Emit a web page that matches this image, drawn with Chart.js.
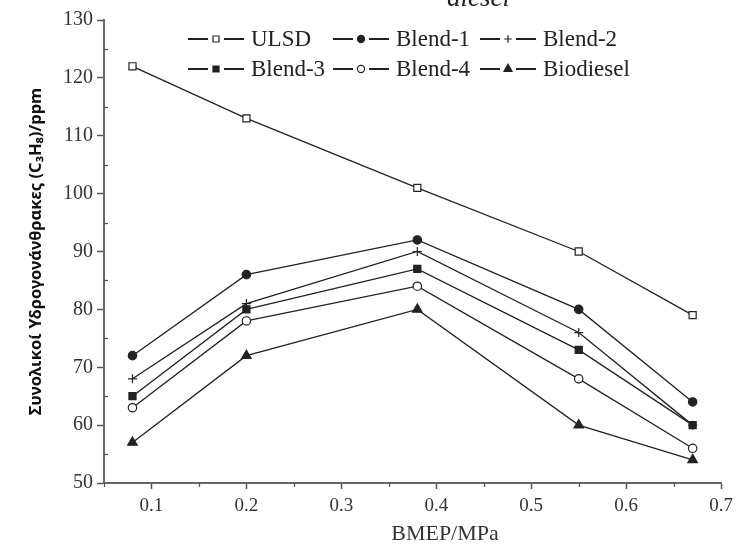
<!DOCTYPE html>
<html>
<head>
<meta charset="utf-8">
<script src="https://cdn.jsdelivr.net/npm/chart.js@4.4.1/dist/chart.umd.min.js"></script>
<style>
html, body { margin: 0; padding: 0; background: #fff; }
</style>
</head>
<body>
<canvas id="hcChart" width="739" height="544"></canvas>
<script>
// values (BMEP in MPa, HC in ppm)
const bmep = [0.08, 0.2, 0.38, 0.55, 0.67];
const ulsd = [122, 113, 101, 90, 79];
const blend1 = [72, 86, 92, 80, 64];
const blend2 = [68, 81, 90, 76, 60];
const blend3 = [65, 80, 87, 73, 60];
const blend4 = [63, 78, 84, 68, 56];
const biodiesel = [57, 72, 80, 60, 54];
const seriesNames = ['ULSD', 'Blend-1', 'Blend-2', 'Blend-3', 'Blend-4', 'Biodiesel'];
const xRange = [0.05, 0.7];
const yRange = [50, 130];

const serif = '"Liberation Serif", "DejaVu Serif", serif';
const ink = '#222';

const styles = [
	{ pointStyle: 'rect', radius: 5, bg: '#fff' },
	{ pointStyle: 'circle', radius: 4.2, bg: ink },
	{ pointStyle: 'cross', radius: 4.5, bg: ink },
	{ pointStyle: 'rect', radius: 5, bg: ink },
	{ pointStyle: 'circle', radius: 4.2, bg: '#fff' },
	{ pointStyle: 'triangle', radius: 5.5, bg: ink }
];
const values = [ulsd, blend1, blend2, blend3, blend4, biodiesel];

const datasets = values.map((vals, i) => ({
	label: seriesNames[i],
	data: bmep.map((x, j) => ({ x, y: vals[j] })),
	borderColor: ink,
	borderWidth: 1.3,
	pointStyle: styles[i].pointStyle,
	pointRadius: styles[i].radius,
	pointBackgroundColor: styles[i].bg,
	pointBorderColor: ink,
	pointBorderWidth: 1.2,
	tension: 0
}));

const isMajor = (v, step) => Math.abs(v / step - Math.round(v / step)) < 1e-6;

// legend: three columns, two rows
const legendCols = [188, 333, 480];
const legendRows = [39, 69];

const extras = {
	id: 'extras',
	afterDraw(chart) {
		const c = chart.ctx;
		const xs = chart.scales.x, ys = chart.scales.y;
		c.save();
		// minor ticks
		c.strokeStyle = '#555';
		c.lineWidth = 1.3;
		for (let v = xRange[0]; v <= xRange[1] + 1e-9; v += 0.05) {
			if (isMajor(v, 0.1)) continue;
			const px = Math.round(xs.getPixelForValue(v)) + 0.5;
			c.beginPath(); c.moveTo(px, xs.top); c.lineTo(px, xs.top + 4); c.stroke();
		}
		for (let v = yRange[0]; v <= yRange[1]; v += 5) {
			if (v % 10 === 0) continue;
			const py = Math.round(ys.getPixelForValue(v)) + 0.5;
			c.beginPath(); c.moveTo(ys.right, py); c.lineTo(ys.right + 4, py); c.stroke();
		}
		// legend
		c.font = '23px ' + serif;
		c.textBaseline = 'middle';
		datasets.forEach((ds, i) => {
			const x = legendCols[i % 3], y = legendRows[Math.floor(i / 3)];
			const w = 56, mid = x + w / 2;
			c.strokeStyle = ink;
			c.lineWidth = 1.8;
			c.beginPath();
			c.moveTo(x, y); c.lineTo(mid - 8, y);
			c.moveTo(mid + 8, y); c.lineTo(x + w, y);
			c.stroke();
			c.fillStyle = ds.pointBackgroundColor;
			c.lineWidth = 1.2;
			Chart.helpers.drawPoint(c, { pointStyle: ds.pointStyle, radius: ds.pointRadius * 0.85, borderWidth: 1.2, rotation: 0 }, mid, y);
			c.fillStyle = ink;
			c.fillText(ds.label, x + w + 7, y + 1);
		});
		// x axis title
		c.font = '22px ' + serif;
		c.textAlign = 'center';
		c.textBaseline = 'alphabetic';
		c.fillStyle = '#333';
		c.fillText('BMEP/MPa', 445, 540);
		// clipped caption fragment at the top edge
		c.font = 'italic 27px ' + serif;
		c.textAlign = 'left';
		c.fillStyle = ink;
		c.fillText('diesel', 447, 6);
		c.restore();
	}
};

new Chart(document.getElementById('hcChart'), {
	type: 'line',
	data: { datasets },
	plugins: [extras],
	options: {
		responsive: false,
		devicePixelRatio: 1,
		animation: false,
		layout: { padding: { top: 20, right: 13, left: 0, bottom: 0 } },
		plugins: { legend: { display: false }, tooltip: { enabled: false } },
		scales: {
			x: {
				type: 'linear',
				min: xRange[0], max: xRange[1],
				afterFit: s => { s.height = 61; },
				ticks: {
					stepSize: 0.05,
					autoSkip: false,
					maxRotation: 0,
					padding: 6,
					color: '#333',
					font: { family: serif, size: 19 },
					callback: v => isMajor(v, 0.1) ? v.toFixed(1) : ''
				},
				grid: {
					drawOnChartArea: false,
					tickLength: 6,
					tickWidth: 1.5,
					tickColor: ctx => (ctx.tick && isMajor(ctx.tick.value, 0.1)) ? '#555' : 'rgba(0,0,0,0)'
				},
				border: { display: true, color: '#666', width: 2 },
				title: { display: false }
			},
			y: {
				min: yRange[0], max: yRange[1],
				afterFit: s => { s.width = 104; },
				ticks: {
					stepSize: 5,
					autoSkip: false,
					padding: 4,
					color: '#333',
					font: { family: serif, size: 20 },
					callback: v => v % 10 === 0 ? v : ''
				},
				grid: {
					drawOnChartArea: false,
					tickLength: 7,
					tickWidth: 1.5,
					tickColor: ctx => (ctx.tick && ctx.tick.value % 10 === 0) ? '#555' : 'rgba(0,0,0,0)'
				},
				border: { display: true, color: '#666', width: 2 },
				title: { display: true, text: 'Συνολικοί Υδρογονάνθρακες (C₃H₈)/ppm', color: '#111', font: { family: '"Noto Sans", "Open Sans", sans-serif', size: 16.5, weight: 'bold' }, padding: { top: 26, bottom: 0 } }
			}
		}
	}
});
</script>
</body>
</html>
